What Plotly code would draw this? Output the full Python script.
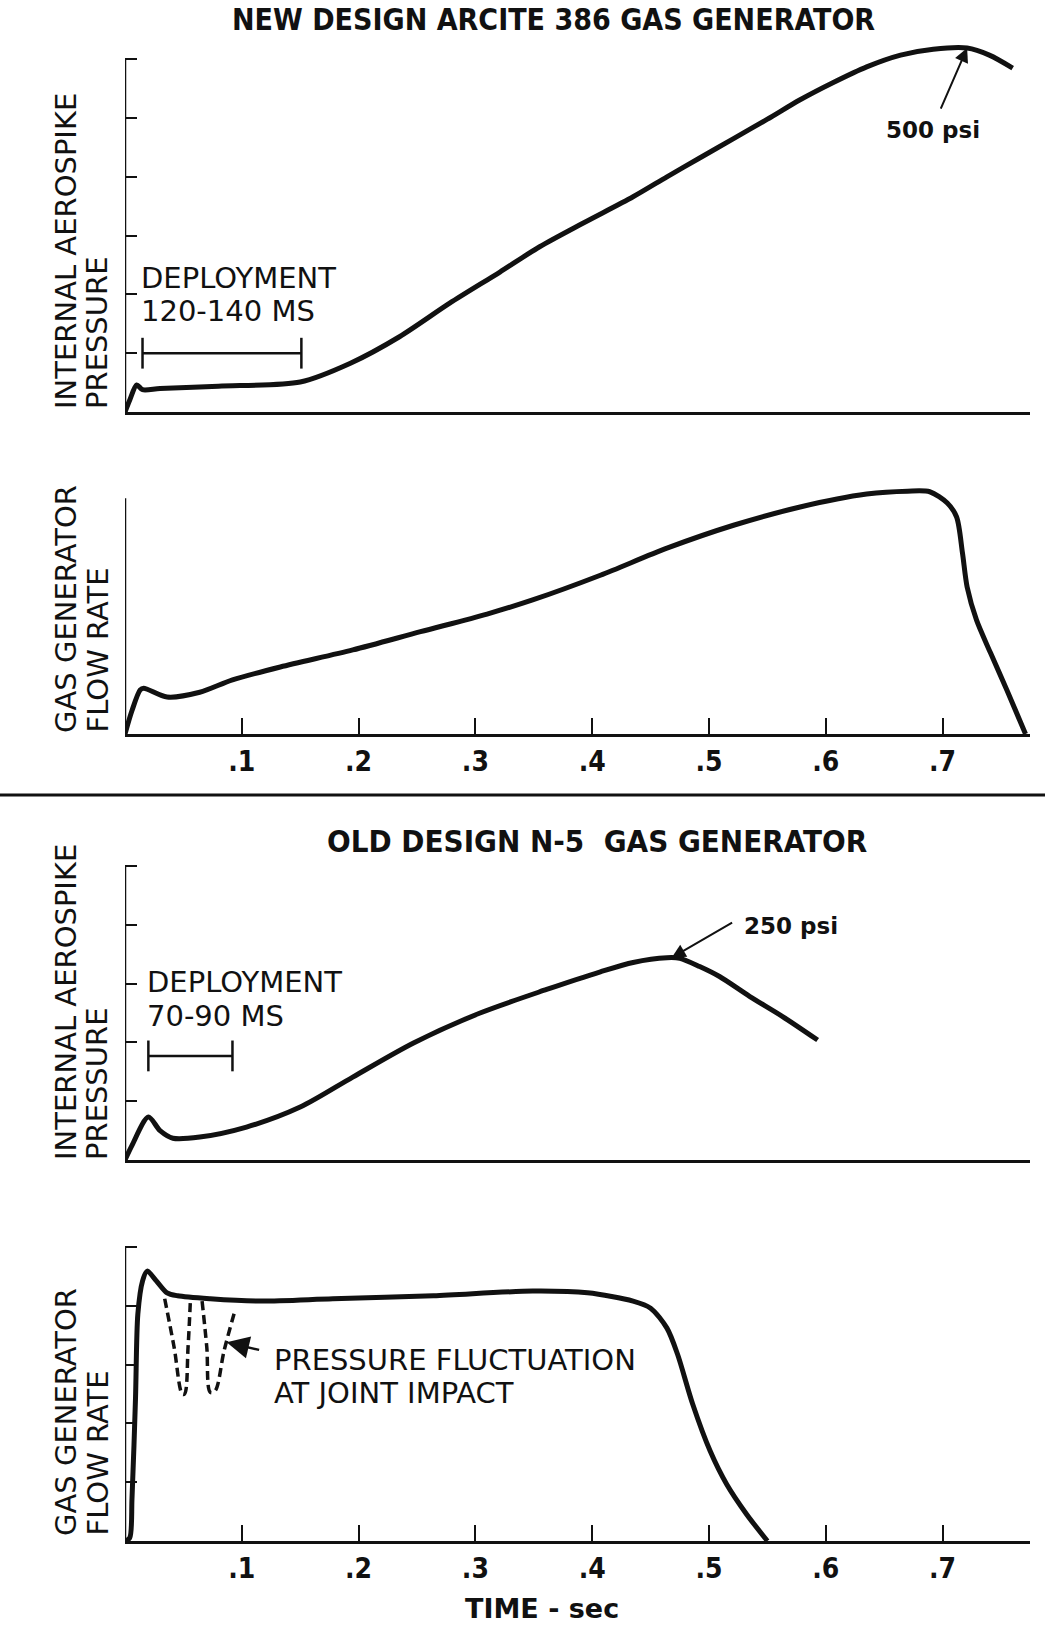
import plotly.graph_objects as go

W, H = 1045, 1631
X0_PX, PX_PER_SEC = 125, 1168      # x = 0 at 125 px, 1 s = 1168 px
UNIT = 58.8                         # px per y-unit (one y tick)
X_MAX = 0.775
FONT = "DejaVu Sans, Verdana, sans-serif"
COND = "DejaVu Sans Condensed, DejaVu Sans, sans-serif"
INK = "#111111"

# ---------------- NEW DESIGN ARCITE 386 ----------------
new_press_t = [0.0, 0.004, 0.010, 0.015, 0.030, 0.080, 0.150, 0.193, 0.235, 0.278,
               0.321, 0.355, 0.392, 0.435, 0.464, 0.492, 0.521, 0.550, 0.578, 0.606,
               0.635, 0.664, 0.692, 0.721, 0.740, 0.760]
new_press_v = [0.0, 0.20, 0.46, 0.38, 0.40, 0.44, 0.51, 0.83, 1.28, 1.85,
               2.38, 2.81, 3.21, 3.66, 4.00, 4.32, 4.65, 4.98, 5.31, 5.60,
               5.87, 6.07, 6.17, 6.19, 6.07, 5.85]
new_flow_t = [0.0, 0.006, 0.013, 0.016, 0.036, 0.064, 0.092, 0.133, 0.195, 0.253,
              0.310, 0.349, 0.407, 0.464, 0.521, 0.578, 0.635, 0.670, 0.689, 0.704,
              0.712, 0.717, 0.721, 0.729, 0.741, 0.755, 0.771]
new_flow_v = [0.0, 0.40, 0.75, 0.78, 0.63, 0.71, 0.92, 1.14, 1.43, 1.74,
              2.04, 2.28, 2.70, 3.16, 3.55, 3.86, 4.08, 4.13, 4.12, 3.93,
              3.69, 3.08, 2.50, 1.94, 1.38, 0.75, 0.0]
new_deploy_t = [0.015, 0.151]
new_deploy_v = [1.0, 1.0]
new_peak_t, new_peak_v = 0.721, 6.19          # 500 psi
new_press_ticks = [1, 2, 3, 4, 5, 6]

# ---------------- OLD DESIGN N-5 ----------------
old_press_t = [0.0, 0.006, 0.020, 0.030, 0.041, 0.064, 0.104, 0.150, 0.195, 0.247,
               0.304, 0.361, 0.407, 0.435, 0.464, 0.475, 0.492, 0.509, 0.535, 0.563,
               0.593]
old_press_v = [0.0, 0.25, 0.73, 0.50, 0.37, 0.39, 0.56, 0.90, 1.41, 1.99,
               2.50, 2.90, 3.20, 3.36, 3.44, 3.43, 3.29, 3.12, 2.78, 2.44,
               2.04]
old_flow_t = [0.0, 0.004, 0.006, 0.009, 0.011, 0.015, 0.019, 0.027, 0.036, 0.045,
              0.073, 0.116, 0.178, 0.264, 0.349, 0.396, 0.435, 0.450, 0.464, 0.473,
              0.486, 0.501, 0.515, 0.532, 0.550]
old_flow_v = [0.0, 0.05, 0.73, 2.43, 3.86, 4.42, 4.59, 4.42, 4.22, 4.17,
              4.12, 4.08, 4.12, 4.17, 4.25, 4.22, 4.08, 3.96, 3.62, 3.18,
              2.33, 1.53, 0.97, 0.46, 0.0]
old_dip1_t = [0.034, 0.042, 0.049, 0.051, 0.054, 0.056]
old_dip1_v = [4.12, 3.30, 2.50, 2.50, 3.30, 4.10]
old_dip2_t = [0.066, 0.070, 0.073, 0.077, 0.085, 0.094]
old_dip2_v = [4.08, 3.30, 2.53, 2.55, 3.25, 3.91]
old_deploy_t = [0.020, 0.092]
old_deploy_v = [1.77, 1.77]
old_peak_t, old_peak_v = 0.468, 3.44          # 250 psi
old_press_ticks = [1, 2, 3, 4, 5]
old_flow_ticks = [1, 2, 3, 4, 5]

time_ticks = [0.1, 0.2, 0.3, 0.4, 0.5, 0.6, 0.7]
time_labels = [".1", ".2", ".3", ".4", ".5", ".6", ".7"]

# panel layout: x-axis baseline px, y range max, height of drawn y-axis
panels = [
    dict(base=412, ymax=6.4, top=6, ticks=new_press_ticks, xlabels=False),
    dict(base=734, ymax=4.3, top=4.01, ticks=[], xlabels=True),
    dict(base=1160, ymax=5.2, top=5, ticks=old_press_ticks, xlabels=False),
    dict(base=1541, ymax=5.2, top=5, ticks=old_flow_ticks, xlabels=True),
]


def ydom(base, ymax):
    return [1 - base / H, 1 - (base - ymax * UNIT) / H]


fig = go.Figure()
curves = [(new_press_t, new_press_v), (new_flow_t, new_flow_v),
          (old_press_t, old_press_v), (old_flow_t, old_flow_v)]
for i, (t, v) in enumerate(curves):
    n = '' if i == 0 else str(i + 1)
    fig.add_trace(go.Scatter(x=t, y=v, mode='lines', xaxis='x' + n, yaxis='y' + n,
                             line=dict(color=INK, width=5, shape='spline', smoothing=0.8),
                             showlegend=False, hoverinfo='skip'))

# dashed pressure fluctuation dips
for t, v in [(old_dip1_t, old_dip1_v), (old_dip2_t, old_dip2_v)]:
    fig.add_trace(go.Scatter(x=t, y=v, mode='lines', xaxis='x4', yaxis='y4',
                             line=dict(color=INK, width=3.5, dash='9px,5px', shape='spline'),
                             showlegend=False, hoverinfo='skip'))

# deployment bars
for t, v, n in [(new_deploy_t, new_deploy_v, ''), (old_deploy_t, old_deploy_v, '3')]:
    fig.add_trace(go.Scatter(x=t, y=v, mode='lines+markers', xaxis='x' + n, yaxis='y' + n,
                             line=dict(color=INK, width=2.5),
                             marker=dict(symbol='line-ns', size=22,
                                         line=dict(color=INK, width=2.5)),
                             showlegend=False, hoverinfo='skip'))

layout = dict(width=W, height=H, margin=dict(l=0, r=0, t=0, b=0),
              paper_bgcolor='white', plot_bgcolor='white', showlegend=False)
shapes = []
xdom = [X0_PX / W, (X0_PX + X_MAX * PX_PER_SEC) / W]
for i, p in enumerate(panels):
    n = '' if i == 0 else str(i + 1)
    layout['xaxis' + n] = dict(
        domain=xdom, range=[0, X_MAX], anchor='y' + n, showgrid=False, zeroline=False,
        showline=True, linewidth=3, linecolor=INK,
        ticks='inside' if p['xlabels'] else '', ticklen=16, tickwidth=2, tickcolor=INK,
        tickvals=time_ticks, ticktext=time_labels, showticklabels=p['xlabels'],
        ticklabelstandoff=0,
        tickfont=dict(family=COND, size=28, color=INK, weight='bold'))
    layout['yaxis' + n] = dict(
        domain=ydom(p['base'], p['ymax']), range=[0, p['ymax']], anchor='x' + n,
        showgrid=False, zeroline=False, showline=False,
        ticks='inside' if p['ticks'] else '', ticklen=12, tickwidth=2, tickcolor=INK,
        tickvals=p['ticks'], showticklabels=False)
    shapes.append(dict(type='line', xref='x' + n, yref='y' + n, x0=0, x1=0, y0=0,
                       y1=p['top'], line=dict(color=INK, width=2.5)))

# separator between the two designs
shapes.append(dict(type='line', xref='paper', yref='paper', x0=0, x1=1,
                   y0=1 - 795 / H, y1=1 - 795 / H, line=dict(color=INK, width=3)))

ann = []


def txt(text, x, y, xref='paper', yref='paper', size=29, xanchor='center',
        yanchor='middle', angle=0, family=FONT, weight='normal'):
    ann.append(dict(text=text, x=x, y=y, xref=xref, yref=yref, showarrow=False,
                    xanchor=xanchor, yanchor=yanchor, textangle=angle,
                    font=dict(family=family, size=size, color=INK, weight=weight)))


def arrow(xh, yh, ax, ay, xref, yref, head=2, size=1.4, width=2):
    ann.append(dict(text='', x=xh, y=yh, xref=xref, yref=yref, ax=ax, ay=ay,
                    showarrow=True, arrowhead=head, arrowsize=size, arrowwidth=width,
                    arrowcolor=INK, standoff=0))


# titles
txt('NEW DESIGN ARCITE 386 GAS GENERATOR', 553 / W, 1 - 20 / H, family=COND,
    size=30, weight='bold')
txt('OLD DESIGN N-5  GAS GENERATOR', 597 / W, 1 - 841 / H, family=COND,
    size=31, weight='bold')

# rotated y-axis titles
ytitles = [('INTERNAL AEROSPIKE', 'PRESSURE', 411), ('GAS GENERATOR', 'FLOW RATE', 735),
           ('INTERNAL AEROSPIKE', 'PRESSURE', 1162), ('GAS GENERATOR', 'FLOW RATE', 1538)]
for l1, l2, b in ytitles:
    txt(l1, 66 / W, 1 - b / H, size=29, yanchor='bottom', angle=-90)
    txt(l2, 97 / W, 1 - b / H, size=29, yanchor='bottom', angle=-90)

# deployment notes
txt('DEPLOYMENT', 0.012, 2.28, 'x', 'y', xanchor='left')
txt('120-140 MS', 0.012, 1.72, 'x', 'y', xanchor='left')
txt('DEPLOYMENT', 0.017, 3.02, 'x3', 'y3', xanchor='left')
txt('70-90 MS', 0.017, 2.45, 'x3', 'y3', xanchor='left')

# peak callouts
txt('500 psi', 0.692, 4.8, 'x', 'y', size=23, weight='bold')
arrow(new_peak_t, new_peak_v, -27, 62, 'x', 'y')
txt('250 psi', 0.570, 3.98, 'x3', 'y3', size=23, weight='bold')
arrow(old_peak_t, old_peak_v, 62, -36, 'x3', 'y3')

# pressure fluctuation note
txt('PRESSURE FLUCTUATION', 0.126, 3.08, 'x4', 'y4', xanchor='left')
txt('AT JOINT IMPACT', 0.126, 2.52, 'x4', 'y4', xanchor='left')
arrow(0.087, 3.38, 34, 8, 'x4', 'y4', head=2, size=1.8, width=2.5)

# time axis label
txt('TIME - sec', 542 / W, 1 - 1608 / H, size=27, weight='bold')

layout['shapes'] = shapes
layout['annotations'] = ann
fig.update_layout(**layout)
# the page body has a default 8px margin; drop it so the figure sits at 0,0
fig.write_html("out.html", config={'displayModeBar': False},
               post_script="document.body.style.margin = '0px';")
